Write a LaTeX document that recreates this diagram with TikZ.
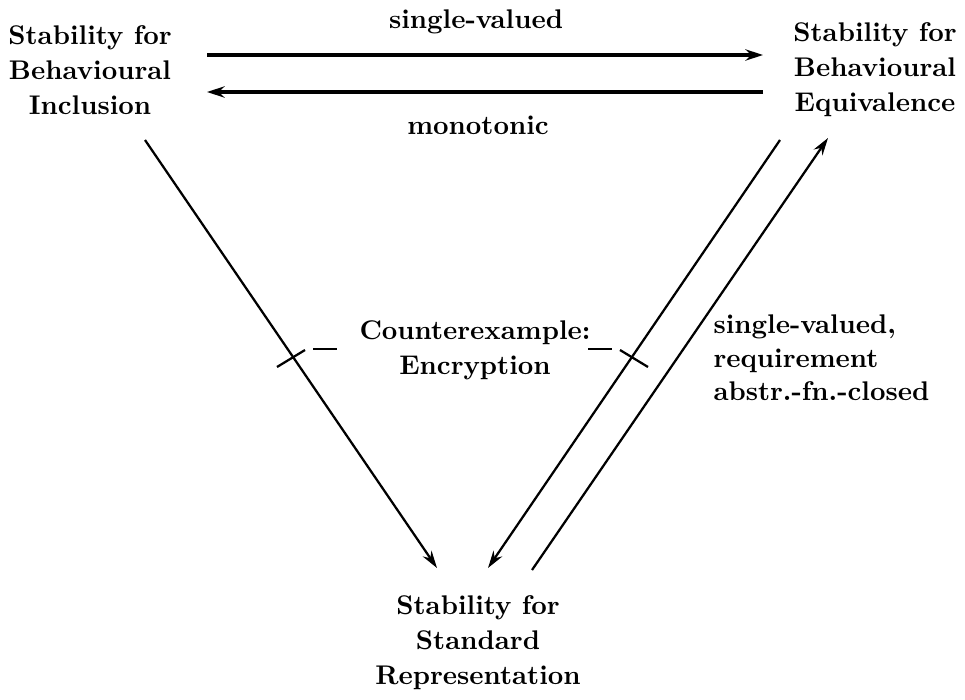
\documentclass[tikz,border=0pt]{standalone}
\usetikzlibrary{arrows.meta}
\begin{document}
\begin{tikzpicture}[x=0.4pt,y=-0.4pt,
  lbl/.style={font=\bfseries\fontsize{10.8}{14}\selectfont, inner sep=0pt, align=center},
  side/.style={font=\bfseries\fontsize{10.8}{13.4}\selectfont, inner sep=0pt, align=left},
  harr/.style={line width=1.3pt, -{Stealth[length=7pt,width=4.5pt]}},
  darr/.style={line width=0.9pt, -{Stealth[length=7pt,width=4.2pt]}},
  plain/.style={line width=0.9pt}]
  \useasboundingbox (0,0) rectangle (965,699);

  % statements
  \node[lbl] (inc) at (90,70) {Stability for\\Behavioural\\Inclusion};
  \node[lbl] (equ) at (875,70) {Stability for\\Behavioural\\Equivalence};
  \node[lbl] (std) at (478,643) {Stability for\\Standard\\Representation};

  % horizontal implications and their conditions
  \node[lbl] (sv) at (476,22) {single-valued};
  \node[lbl] (mono) at (478,125) {monotonic};
  \draw[harr] ([shift={(117,-15)}]inc.center) -- ([shift={(-112,-15)}]equ.center);
  \draw[harr] ([shift={(-112,22)}]equ.center) -- ([shift={(117,22)}]inc.center);

  % diagonal implications
  \draw[darr] ([shift={(55,70)}]inc.center) -- ([shift={(-41,-75)}]std.center);
  \draw[darr] ([shift={(-95,70)}]equ.center) -- ([shift={(10,-75)}]std.center);
  \draw[darr] ([shift={(54,-73)}]std.center) -- ([shift={(-47,68)}]equ.center);

  % counterexample label with crossed-out marks
  \node[lbl] (ce) at (475,350) {Counterexample:\\Encryption};
  \draw[plain] ([shift={(-198,17)}]ce.center) -- ([shift={(-170,0)}]ce.center);
  \draw[plain] ([shift={(-162,-1)}]ce.center) -- ([shift={(-138,-1)}]ce.center);
  \draw[plain] ([shift={(145,0)}]ce.center) -- ([shift={(173,17)}]ce.center);
  \draw[plain] ([shift={(113,-1)}]ce.center) -- ([shift={(137,-1)}]ce.center);

  % condition for the upward implication
  \node[side, anchor=west] (cond) at (713,358) {single-valued,\\requirement\\abstr.-fn.-closed};
\end{tikzpicture}
\end{document}
